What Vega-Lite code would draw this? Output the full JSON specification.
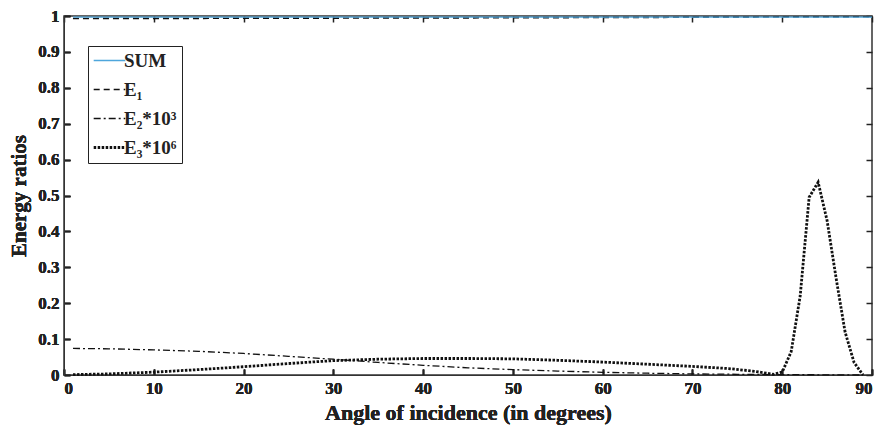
{
  "$schema": "https://vega.github.io/schema/vega-lite/v6.json",
  "width": 808,
  "height": 359,
  "autosize": "none",
  "padding": {"left": 64, "top": 16, "right": 11, "bottom": 56},
  "background": "white",
  "config": {
    "view": {"stroke": "#333", "strokeWidth": 1.5},
    "axis": {
      "labelFont": "Liberation Serif",
      "labelFontWeight": "bold",
      "labelFontSize": 17,
      "labelColor": "#222",
      "titleFont": "Liberation Serif",
      "titleFontWeight": "bold",
      "titleColor": "#222",
      "domainColor": "#333",
      "tickColor": "#222",
      "tickWidth": 1.5,
      "ticks": true,
      "grid": false,
      "tickSize": -6,
      "labelPadding": 11,
      "zindex": 1
    },
    "legend": {
      "labelFont": "Liberation Serif",
      "labelFontWeight": "bold",
      "labelFontSize": 19,
      "labelColor": "#222"
    }
  },
  "datasets": {
    "curves": [
      {"angle": 1, "value": 0.997, "series": "SUM"},
      {"angle": 90, "value": 0.997, "series": "SUM"},
      {"angle": 1, "value": 0.993, "series": "E₁"},
      {"angle": 45, "value": 0.995, "series": "E₁"},
      {"angle": 90, "value": 0.998, "series": "E₁"},
      {"angle": 1, "value": 0.074, "series": "E₂*10³"},
      {"angle": 5, "value": 0.073, "series": "E₂*10³"},
      {"angle": 10, "value": 0.07, "series": "E₂*10³"},
      {"angle": 15, "value": 0.066, "series": "E₂*10³"},
      {"angle": 20, "value": 0.06, "series": "E₂*10³"},
      {"angle": 25, "value": 0.052, "series": "E₂*10³"},
      {"angle": 30, "value": 0.044, "series": "E₂*10³"},
      {"angle": 35, "value": 0.035, "series": "E₂*10³"},
      {"angle": 40, "value": 0.027, "series": "E₂*10³"},
      {"angle": 45, "value": 0.02, "series": "E₂*10³"},
      {"angle": 50, "value": 0.015, "series": "E₂*10³"},
      {"angle": 55, "value": 0.011, "series": "E₂*10³"},
      {"angle": 60, "value": 0.0075, "series": "E₂*10³"},
      {"angle": 65, "value": 0.005, "series": "E₂*10³"},
      {"angle": 70, "value": 0.003, "series": "E₂*10³"},
      {"angle": 75, "value": 0.002, "series": "E₂*10³"},
      {"angle": 80, "value": 0.001, "series": "E₂*10³"},
      {"angle": 85, "value": 0.0005, "series": "E₂*10³"},
      {"angle": 89, "value": 0.0, "series": "E₂*10³"},
      {"angle": 1, "value": 0.001, "series": "E₃*10⁶"},
      {"angle": 5, "value": 0.003, "series": "E₃*10⁶"},
      {"angle": 10, "value": 0.008, "series": "E₃*10⁶"},
      {"angle": 15, "value": 0.015, "series": "E₃*10⁶"},
      {"angle": 20, "value": 0.023, "series": "E₃*10⁶"},
      {"angle": 25, "value": 0.032, "series": "E₃*10⁶"},
      {"angle": 30, "value": 0.04, "series": "E₃*10⁶"},
      {"angle": 35, "value": 0.044, "series": "E₃*10⁶"},
      {"angle": 40, "value": 0.046, "series": "E₃*10⁶"},
      {"angle": 45, "value": 0.046, "series": "E₃*10⁶"},
      {"angle": 50, "value": 0.045, "series": "E₃*10⁶"},
      {"angle": 55, "value": 0.041, "series": "E₃*10⁶"},
      {"angle": 60, "value": 0.036, "series": "E₃*10⁶"},
      {"angle": 65, "value": 0.03, "series": "E₃*10⁶"},
      {"angle": 70, "value": 0.024, "series": "E₃*10⁶"},
      {"angle": 74, "value": 0.018, "series": "E₃*10⁶"},
      {"angle": 77, "value": 0.01, "series": "E₃*10⁶"},
      {"angle": 79, "value": 0.002, "series": "E₃*10⁶"},
      {"angle": 80, "value": 0.008, "series": "E₃*10⁶"},
      {"angle": 81, "value": 0.065, "series": "E₃*10⁶"},
      {"angle": 82, "value": 0.22, "series": "E₃*10⁶"},
      {"angle": 83, "value": 0.495, "series": "E₃*10⁶"},
      {"angle": 84, "value": 0.537, "series": "E₃*10⁶"},
      {"angle": 85, "value": 0.43, "series": "E₃*10⁶"},
      {"angle": 86, "value": 0.27, "series": "E₃*10⁶"},
      {"angle": 87, "value": 0.12, "series": "E₃*10⁶"},
      {"angle": 88, "value": 0.035, "series": "E₃*10⁶"},
      {"angle": 89, "value": 0.0, "series": "E₃*10⁶"}
    ]
  },
  "data": {"name": "curves"},
  "encoding": {
    "x": {
      "field": "angle", "type": "quantitative",
      "scale": {"domain": [0, 90], "nice": false},
      "axis": {"orient": "bottom", "values": [0,10,20,30,40,50,60,70,80,90], "title": "Angle of incidence (in degrees)", "titleFontSize": 22, "titlePadding": 6}
    },
    "y": {
      "field": "value", "type": "quantitative",
      "scale": {"domain": [0, 1], "nice": false},
      "axis": {"orient": "left", "values": [0,0.1,0.2,0.3,0.4,0.5,0.6,0.7,0.8,0.9,1], "format": "~g", "title": "Energy ratios", "titleFontSize": 21, "titlePadding": 8}
    },
    "color": {
      "field": "series", "type": "nominal",
      "scale": {"domain": ["SUM", "E₁", "E₂*10³", "E₃*10⁶"], "range": ["#4ea6dc", "#111111", "#111111", "#111111"]},
      "legend": {
        "title": null, "orient": "none", "legendX": 24, "legendY": 30,
        "strokeColor": "#222", "fillColor": "white", "padding": 5,
        "symbolType": "stroke", "symbolSize": 1000, "rowPadding": 9,
        "symbolOffset": 7, "labelOffset": 5,
        "encode": {"symbols": {"update": {"strokeWidth": {"signal": "datum.value === 'E₃*10⁶' ? 3 : 1.4"}}}}
      }
    },
    "strokeDash": {
      "field": "series", "type": "nominal",
      "scale": {"domain": ["SUM", "E₁", "E₂*10³", "E₃*10⁶"], "range": [[1, 0], [6, 4], [7, 3, 2, 3], [2.5, 1.5]]}
    }
  },
  "layer": [
    {
      "transform": [{"filter": "datum.series === 'E₃*10⁶'"}],
      "mark": {"type": "line", "strokeWidth": 2.8}
    },
    {
      "transform": [{"filter": "datum.series === 'E₂*10³'"}],
      "mark": {"type": "line", "strokeWidth": 1.3}
    },
    {
      "transform": [{"filter": "datum.series === 'E₁'"}],
      "mark": {"type": "line", "strokeWidth": 1.7}
    },
    {
      "transform": [{"filter": "datum.series === 'SUM'"}],
      "mark": {"type": "line", "strokeWidth": 1.2}
    },
    {
      "mark": {"type": "point", "opacity": 0},
      "encoding": {
        "x": {
          "field": "angle", "type": "quantitative",
          "axis": {"orient": "top", "values": [0,10,20,30,40,50,60,70,80,90], "labels": false, "title": null, "domain": false}
        },
        "y": {
          "field": "value", "type": "quantitative",
          "axis": {"orient": "right", "values": [0,0.1,0.2,0.3,0.4,0.5,0.6,0.7,0.8,0.9,1], "labels": false, "title": null, "domain": false}
        },
        "color": {"value": "white"},
        "strokeDash": {"value": [1, 0]}
      }
    }
  ]
}
